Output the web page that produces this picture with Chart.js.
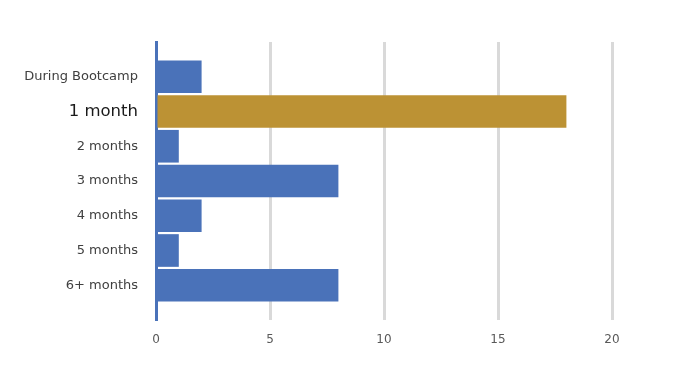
<!DOCTYPE html>
<html>
<head>
<meta charset="utf-8">
<script src="https://cdn.jsdelivr.net/npm/chart.js@4.4.1/dist/chart.umd.min.js"></script>
<style>
  html, body { margin: 0; padding: 0; background: #fff; }
  #wrap { width: 689px; height: 380px; }
</style>
</head>
<body>
<div id="wrap"><canvas id="grafico"></canvas></div>
<script>
// categories and values
const categorias = ['During Bootcamp', '1 month', '2 months', '3 months', '4 months', '5 months', '6+ months'];
const valores = [2, 18, 1, 8, 2, 1, 8];
const destaque = '1 month';
const ticksX = [0, 5, 10, 15, 20];

const azul = '#4a72b9';
const dourado = '#bc9234';

// empty slot above and below so the axis runs half a band past the bars
const labels = [''].concat(categorias, ['']);
const dados = [null].concat(valores, [null]);
const cores = labels.map(l => l === destaque ? dourado : azul);

const ctx = document.getElementById('grafico').getContext('2d');
new Chart(ctx, {
    type: 'bar',
    data: {
        labels: labels,
        datasets: [{
            data: dados,
            backgroundColor: cores,
            borderWidth: 0,
            barPercentage: 0.94,
            categoryPercentage: 1
        }]
    },
    options: {
        indexAxis: 'y',
        responsive: true,
        maintainAspectRatio: false,
        animation: false,
        layout: { padding: { top: 42, right: 77, left: 0, bottom: 0 } },
        plugins: {
            legend: { display: false },
            tooltip: { enabled: false }
        },
        scales: {
            x: {
                min: ticksX[0],
                max: ticksX[ticksX.length - 1],
                afterBuildTicks: s => { s.ticks = ticksX.map(v => ({ value: v })); },
                afterFit: s => { s.height = 60; },
                border: { display: false },
                grid: {
                    color: c => (c.tick && c.tick.value === 0) ? 'rgba(0,0,0,0)' : '#d9d9d9',
                    lineWidth: 3,
                    drawTicks: false
                },
                ticks: {
                    padding: 13,
                    color: '#595959',
                    font: { family: 'DejaVu Sans', size: 12 }
                }
            },
            y: {
                offset: false,
                afterFit: s => { s.width = 156; },
                grid: { display: false, drawTicks: false },
                border: { color: azul, width: 3 },
                ticks: {
                    padding: 18,
                    autoSkip: false,
                    color: c => labels[c.index] === destaque ? '#1a1a1a' : '#404040',
                    font: c => labels[c.index] === destaque
                        ? { family: 'DejaVu Sans', size: 16.5, weight: '500' }
                        : { family: 'DejaVu Sans', size: 13 }
                }
            }
        }
    }
});
</script>
</body>
</html>
